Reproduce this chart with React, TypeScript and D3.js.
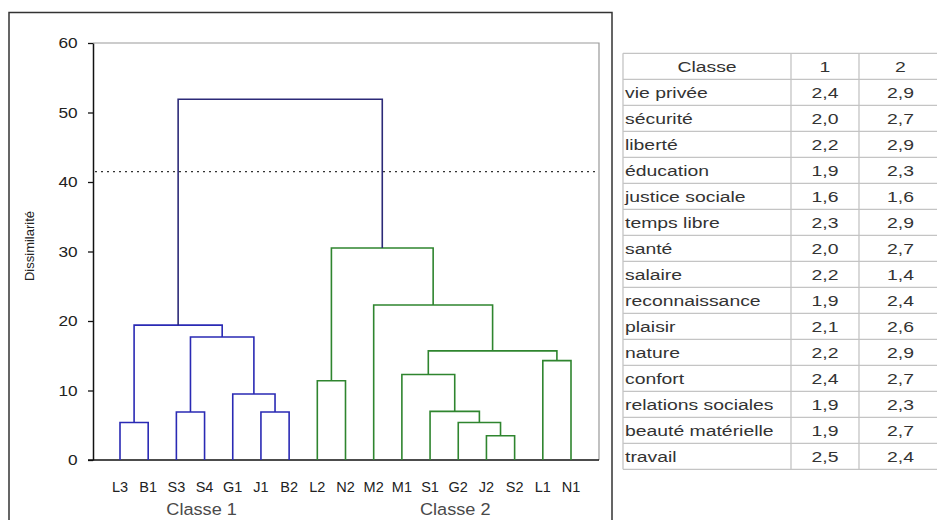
import React, { useEffect, useRef } from 'react';
import * as d3 from 'd3';

// leaves in dendrogram order
const LEAVES = ['L3', 'B1', 'S3', 'S4', 'G1', 'J1', 'B2', 'L2', 'N2', 'M2', 'M1', 'S1', 'G2', 'J2', 'S2', 'L1', 'N1'];
const CLASS_1 = ['L3', 'B1', 'S3', 'S4', 'G1', 'J1', 'B2'];
const CLASS_LABELS = ['Classe 1', 'Classe 2'];
const CLASS_LABEL_ANCHORS = ['S4', 'G2'];

interface Merge {
  id: string;
  left: string;
  right: string;
  height: number;
}

const MERGES: Merge[] = [
  { id: 'm1', left: 'L3', right: 'B1', height: 5.4 },
  { id: 'm2', left: 'S3', right: 'S4', height: 6.9 },
  { id: 'm3', left: 'J1', right: 'B2', height: 6.9 },
  { id: 'm4', left: 'G1', right: 'm3', height: 9.5 },
  { id: 'm5', left: 'm2', right: 'm4', height: 17.7 },
  { id: 'm6', left: 'm1', right: 'm5', height: 19.4 },
  { id: 'm7', left: 'L2', right: 'N2', height: 11.4 },
  { id: 'm8', left: 'J2', right: 'S2', height: 3.5 },
  { id: 'm9', left: 'G2', right: 'm8', height: 5.4 },
  { id: 'm10', left: 'S1', right: 'm9', height: 7.0 },
  { id: 'm11', left: 'M1', right: 'm10', height: 12.3 },
  { id: 'm12', left: 'L1', right: 'N1', height: 14.3 },
  { id: 'm13', left: 'm11', right: 'm12', height: 15.7 },
  { id: 'm14', left: 'M2', right: 'm13', height: 22.3 },
  { id: 'm15', left: 'm7', right: 'm14', height: 30.5 },
  { id: 'root', left: 'm6', right: 'm15', height: 51.9 }
];

const CUT_HEIGHT = 41.5;
const Y_TICKS = [0, 10, 20, 30, 40, 50, 60];

const TABLE_HEADER = ['Classe', '1', '2'];
const VARIABLES = [
  'vie privée', 'sécurité', 'liberté', 'éducation', 'justice sociale', 'temps libre', 'santé',
  'salaire', 'reconnaissance', 'plaisir', 'nature', 'confort', 'relations sociales',
  'beauté matérielle', 'travail'
];
const MEANS_CLASS_1 = [2.4, 2.0, 2.2, 1.9, 1.6, 2.3, 2.0, 2.2, 1.9, 2.1, 2.2, 2.4, 1.9, 1.9, 2.5];
const MEANS_CLASS_2 = [2.9, 2.7, 2.9, 2.3, 1.6, 2.9, 2.7, 1.4, 2.4, 2.6, 2.9, 2.7, 2.3, 2.7, 2.4];

const BLUE = '#2a2ab4';
const GREEN = '#2f852f';
const ROOT = '#2c2a78';
const FONT = '"Liberation Sans", Arial, sans-serif';

const App: React.FC = () => {
  const ref = useRef<SVGSVGElement>(null);

  useEffect(() => {
    if (!ref.current) return;
    const svg = d3.select(ref.current);
    svg.selectAll('*').remove();

    const plot = { left: 93, right: 599, top: 43, bottom: 460 };

    const x = d3.scalePoint<string>().domain(LEAVES).range([120, 571]);
    const y = d3.scaleLinear().domain([0, 60]).range([plot.bottom, plot.top]);

    // outer frame
    svg.append('rect')
      .attr('x', 9).attr('y', 12.5)
      .attr('width', 603).attr('height', 540)
      .attr('fill', 'none')
      .attr('stroke', '#333')
      .attr('stroke-width', 1.5);

    // plot border (top / right)
    svg.append('path')
      .attr('d', `M${plot.left},${plot.top}H${plot.right}V${plot.bottom}`)
      .attr('fill', 'none')
      .attr('stroke', '#999')
      .attr('stroke-width', 1.2);

    // y axis
    const yAxis = d3.axisLeft(y).tickValues(Y_TICKS).tickSize(5).tickSizeOuter(0).tickPadding(7);
    const gy = svg.append('g')
      .attr('transform', `translate(${plot.left},0)`)
      .call(yAxis);
    gy.select('.domain').attr('stroke', '#111').attr('stroke-width', 1.5);
    gy.selectAll('.tick line').attr('stroke', '#111').attr('stroke-width', 1.3);
    gy.selectAll('.tick text')
      .attr('font-family', FONT)
      .attr('font-size', 15)
      .attr('fill', '#222')
      .attr('transform', 'scale(1.15,1)')
      .attr('x', -13 / 1.15 - 2);

    // x baseline
    svg.append('line')
      .attr('x1', 88).attr('x2', plot.right)
      .attr('y1', y(0)).attr('y2', y(0))
      .attr('stroke', '#111')
      .attr('stroke-width', 1.5);

    // y label
    svg.append('text')
      .attr('transform', `translate(34,246) rotate(-90)`)
      .attr('text-anchor', 'middle')
      .attr('font-family', FONT)
      .attr('font-size', 13)
      .attr('fill', '#222')
      .text('Dissimilarité');

    // cut line
    svg.append('line')
      .attr('x1', 95).attr('x2', plot.right)
      .attr('y1', y(CUT_HEIGHT)).attr('y2', y(CUT_HEIGHT))
      .attr('stroke', '#333')
      .attr('stroke-width', 1.3)
      .attr('stroke-dasharray', '2,4');

    // dendrogram
    const pos: Record<string, { x: number; h: number; leaves: string[] }> = {};
    LEAVES.forEach(l => { pos[l] = { x: x(l) as number, h: 0, leaves: [l] }; });
    MERGES.forEach(m => {
      const a = pos[m.left];
      const b = pos[m.right];
      pos[m.id] = { x: (a.x + b.x) / 2, h: m.height, leaves: a.leaves.concat(b.leaves) };
      const color = m.id === 'root' ? ROOT
        : pos[m.id].leaves.every(l => CLASS_1.includes(l)) ? BLUE : GREEN;
      svg.append('path')
        .attr('d', `M${a.x},${y(a.h)}V${y(m.height)}H${b.x}V${y(b.h)}`)
        .attr('fill', 'none')
        .attr('stroke', color)
        .attr('stroke-width', 1.6);
    });

    // leaf labels
    svg.selectAll('.leaf')
      .data(LEAVES)
      .enter()
      .append('text')
      .attr('transform', d => `translate(${x(d)},492) scale(1.0,1)`)
      .attr('text-anchor', 'middle')
      .attr('font-family', FONT)
      .attr('font-size', 14.5)
      .attr('fill', '#222')
      .text(d => d);

    // class labels
    svg.selectAll('.cls')
      .data(CLASS_LABELS)
      .enter()
      .append('text')
      .attr('transform', (d, i) => `translate(${(x(CLASS_LABEL_ANCHORS[i]) as number) - 3},515) scale(1.1,1)`)
      .attr('text-anchor', 'middle')
      .attr('font-family', FONT)
      .attr('font-size', 16.5)
      .attr('fill', '#4a4a4a')
      .text(d => d);

    // table
    const cols = [623, 791, 859, 944];
    const top = 53.3;
    const rowH = 26;
    const nRows = VARIABLES.length + 1;
    const table = svg.append('g');
    const rows = d3.range(nRows + 1);
    table.selectAll('.hl')
      .data(rows)
      .enter()
      .append('line')
      .attr('x1', cols[0]).attr('x2', cols[3])
      .attr('y1', i => top + i * rowH).attr('y2', i => top + i * rowH)
      .attr('stroke', '#c4c4c4')
      .attr('stroke-width', 1.3);
    table.selectAll('.vl')
      .data(cols)
      .enter()
      .append('line')
      .attr('x1', c => c).attr('x2', c => c)
      .attr('y1', top).attr('y2', top + nRows * rowH)
      .attr('stroke', '#c4c4c4')
      .attr('stroke-width', 1.3);

    const fmt = (v: number) => d3.format('.1f')(v).replace('.', ',');
    const cells: { text: string; x: number; row: number; anchor: string }[] = [];
    cells.push({ text: TABLE_HEADER[0], x: (cols[0] + cols[1]) / 2, row: 0, anchor: 'middle' });
    cells.push({ text: TABLE_HEADER[1], x: (cols[1] + cols[2]) / 2, row: 0, anchor: 'middle' });
    cells.push({ text: TABLE_HEADER[2], x: (cols[2] + cols[3]) / 2 - 1, row: 0, anchor: 'middle' });
    VARIABLES.forEach((v, i) => {
      cells.push({ text: v, x: cols[0] + 2, row: i + 1, anchor: 'start' });
      cells.push({ text: fmt(MEANS_CLASS_1[i]), x: (cols[1] + cols[2]) / 2, row: i + 1, anchor: 'middle' });
      cells.push({ text: fmt(MEANS_CLASS_2[i]), x: (cols[2] + cols[3]) / 2 - 1, row: i + 1, anchor: 'middle' });
    });
    table.selectAll('.cell')
      .data(cells)
      .enter()
      .append('text')
      .attr('transform', d => `translate(${d.x},${top + d.row * rowH + 19}) scale(1.25,1)`)
      .attr('text-anchor', d => d.anchor)
      .attr('font-family', FONT)
      .attr('font-size', 15.5)
      .attr('fill', '#333')
      .text(d => d.text);
  }, []);

  return (
    <svg
      ref={ref}
      width={937}
      height={520}
      style={{ position: 'absolute', left: 0, top: 0, background: '#fff' }}
    />
  );
};

export default App;
